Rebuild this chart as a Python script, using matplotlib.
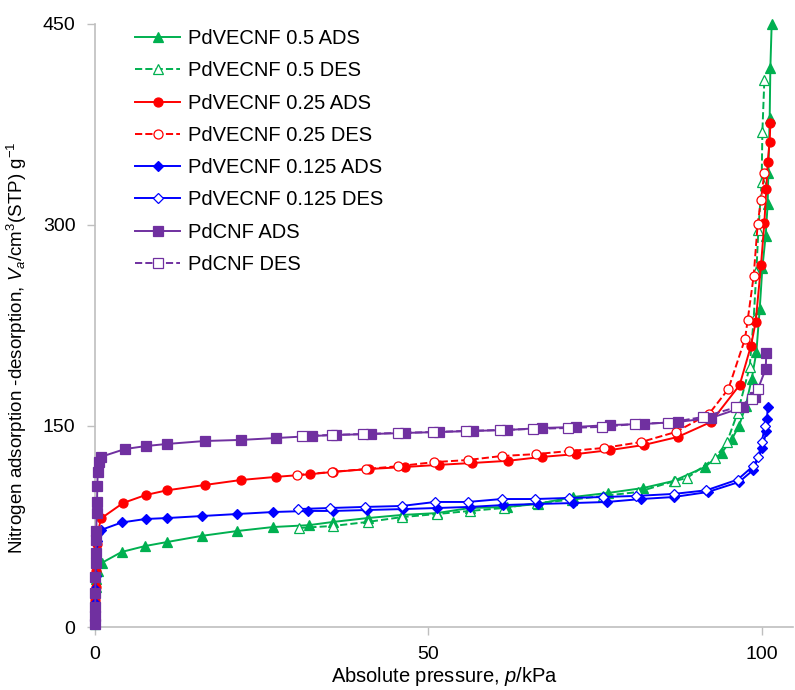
import matplotlib
matplotlib.use("Agg")
import matplotlib.pyplot as plt

plt.rcParams['font.family'] = ['Liberation Sans', 'DejaVu Sans']
plt.rcParams['mathtext.fontset'] = 'custom'
plt.rcParams['mathtext.rm'] = 'Liberation Sans'
plt.rcParams['mathtext.it'] = 'Liberation Sans:italic'

# PdVECNF 0.5
g_ads_x = [0.01, 0.02, 0.04, 0.07, 0.1, 0.2, 0.4, 1.0, 4.0, 7.5, 10.8, 16.0, 21.3, 26.7, 32.1, 35.7,
           40.9, 46.0, 51.3, 56.2, 61.8, 66.4, 71.7, 76.9, 82.2, 86.8, 91.5, 94.0, 95.5, 96.6, 97.6,
           98.5, 99.2, 99.7, 100.1, 100.6, 100.9, 101.0, 101.2, 101.3, 101.5]
g_ads_y = [2, 8, 15, 22, 30, 36, 42, 47.8, 56, 60.4, 63.4, 68, 71.6, 74.6, 76, 78.4,
           81.3, 83.6, 85, 88.8, 89.6, 91.8, 97, 100, 103.7, 109, 119.4, 130, 140, 150, 165,
           185, 205, 237, 268, 292, 316, 339, 380, 417, 450]
g_des_x = [30.6, 35.7, 40.9, 46.0, 51.3, 56.2, 61.3, 66.3, 71.5, 76.2, 81.4, 87.0, 88.8, 93.0,
           94.8, 96.4, 98.2, 98.8, 99.2, 99.5, 100.0, 100.1, 100.4]
g_des_y = [73.9, 75.4, 78.4, 82, 84.3, 86.6, 88.8, 92.5, 95, 97.8, 100.7, 109, 111.2, 126,
           138, 160, 194, 230, 265, 296, 332, 369, 408]

# PdVECNF 0.25
r_ads_x = [0.01, 0.02, 0.05, 0.1, 0.15, 0.2, 0.3, 0.5, 0.9, 4.2, 7.6, 10.8, 16.5, 21.9, 27.1, 32.2,
           35.7, 41.1, 46.5, 51.6, 56.6, 61.9, 67.0, 72.1, 77.2, 82.3, 87.4, 92.4, 96.7, 98.4,
           99.1, 99.9, 100.4, 100.7, 100.9, 101.2, 101.3]
r_ads_y = [3, 10, 20, 30, 42, 52, 62, 72, 81, 92.5, 98.5, 102, 106, 109.7, 112, 114,
           115.7, 117.9, 119.4, 121, 122.4, 124, 126.9, 129, 132, 135.8, 141.8, 153, 180.6, 210,
           227.6, 270, 301.5, 327, 347, 362, 376]
r_des_x = [30.3, 35.5, 40.7, 45.5, 50.8, 55.9, 61.0, 66.1, 71.1, 76.3, 81.9, 87.1, 92.1, 95.0,
           97.5, 97.9, 98.8, 99.4, 99.9, 100.4]
r_des_y = [113.4, 115.7, 117.9, 120, 123, 124.6, 127.6, 129, 131.3, 133.6, 138, 145.5, 159, 177.6,
           215, 229, 262, 300.7, 319, 339]

# PdVECNF 0.125
b_ads_x = [0.01, 0.02, 0.04, 0.07, 0.1, 0.15, 0.2, 0.3, 0.5, 0.9, 4.0, 7.6, 10.8, 16.0, 21.3, 26.7,
           32.0, 35.7, 40.8, 46.2, 51.3, 56.2, 61.2, 66.4, 71.7, 76.8, 81.9, 86.8, 91.9, 96.6,
           98.7, 100.1, 100.7, 100.8, 100.9]
b_ads_y = [3, 10, 18, 28, 38, 48, 56, 64, 70, 72.4, 78, 80.6, 81.3, 82.8, 84.3, 85.8,
           86.6, 86.6, 87.3, 88, 88.8, 89.6, 91, 91.8, 92.5, 93.3, 95.5, 97, 100.7, 108.2,
           117, 133.6, 146, 155, 164]
b_des_x = [30.4, 35.3, 40.5, 46.0, 51.0, 55.9, 61.0, 66.0, 71.1, 76.2, 81.1, 86.8, 91.7, 96.4,
           98.7, 99.5, 100.0, 100.5]
b_des_y = [88, 88.8, 89.6, 90.3, 93.3, 93.3, 95.5, 95.5, 96.3, 97, 97.8, 99.3, 102, 110,
           120, 127, 138, 150]

# PdCNF
p_ads_x = [0.01, 0.02, 0.03, 0.05, 0.07, 0.1, 0.12, 0.15, 0.2, 0.25, 0.3, 0.35, 0.4, 0.6, 0.9,
           4.5, 7.6, 10.8, 16.5, 21.9, 27.1, 32.5, 36.1, 41.4, 46.5, 51.6, 56.7, 61.8, 67.0,
           72.1, 77.2, 82.3, 87.4, 92.4, 97.2, 99.0, 100.6, 100.7]
p_ads_y = [2, 8, 15, 25, 37, 48, 55, 65, 72, 85, 93, 105, 115.7, 123, 127,
           132.8, 135, 136.6, 138.8, 139.6, 141, 142.5, 143.3, 144, 144.8, 145.5, 146.3, 147, 148.5,
           149.3, 150.7, 151.5, 153, 156, 164, 172, 192.5, 204.5]
p_des_x = [31.0, 35.5, 40.2, 45.4, 50.7, 55.6, 60.7, 65.7, 70.9, 76.0, 81.0, 86.0, 91.2, 96.2,
           98.5, 99.4]
p_des_y = [142.5, 143.3, 144, 144.8, 145.5, 146.3, 147, 147.8, 148.5, 149.3, 151.5, 152.5, 156.7, 164,
           170, 177.6]

labels = ["PdVECNF 0.5 ADS", "PdVECNF 0.5 DES", "PdVECNF 0.25 ADS", "PdVECNF 0.25 DES",
          "PdVECNF 0.125 ADS", "PdVECNF 0.125 DES", "PdCNF ADS", "PdCNF DES"]
x_ticks = [0, 50, 100]
y_ticks = [0, 150, 300, 450]

GREEN = "#00B050"
RED = "#FF0000"
BLUE = "#0000FF"
PURPLE = "#7030A0"

fig = plt.figure(figsize=(7.95, 6.9), dpi=100)
ax = fig.add_axes([0.1195, 0.0913, 0.878, 0.874])

series = [
    (g_ads_x, g_ads_y, GREEN, '^', '-', True, 6.5),
    (g_des_x, g_des_y, GREEN, '^', '--', False, 6.5),
    (r_ads_x, r_ads_y, RED, 'o', '-', True, 6.5),
    (r_des_x, r_des_y, RED, 'o', '--', False, 6.5),
    (b_ads_x, b_ads_y, BLUE, 'D', '-', True, 5.0),
    (b_des_x, b_des_y, BLUE, 'D', '-', False, 5.0),
    (p_ads_x, p_ads_y, PURPLE, 's', '-', True, 6.5),
    (p_des_x, p_des_y, PURPLE, 's', '--', False, 6.5),
]
for (xs, ys, c, m, ls, filled, ms), lab in zip(series, labels):
    ax.plot(xs, ys, color=c, linestyle=ls, linewidth=1.4, marker=m, markersize=ms,
            markerfacecolor=c if filled else 'white', markeredgecolor=c,
            markeredgewidth=0.9, label=lab, clip_on=False, zorder=3)

ax.set_xlim(0, 104.7)
ax.set_ylim(0, 450)
ax.set_xticks(x_ticks)
ax.set_yticks(y_ticks)
for s in ['top', 'right']:
    ax.spines[s].set_visible(False)
for s in ['left', 'bottom']:
    ax.spines[s].set_color('#BFBFBF')
    ax.spines[s].set_linewidth(1.2)
ax.tick_params(axis='both', direction='out', length=6, width=1.0, color='#BFBFBF',
               labelsize=14, labelcolor='black', pad=8)

ax.set_xlabel(r"Absolute pressure, $\it{p}$/kPa", fontsize=14.5, labelpad=1)
ax.set_ylabel(r"Nitrogen adsorption -desorption, $\it{V}_{\it{a}}$/cm$^{3}$(STP) g$^{-1}$",
              fontsize=13.5)
ax.yaxis.set_label_coords(-0.095, 0.463)

leg = ax.legend(loc='upper left', bbox_to_anchor=(0.046, 1.005), frameon=False, fontsize=14.5,
                handlelength=2.25, labelspacing=0.66, handletextpad=0.35, borderaxespad=0)

fig.savefig("out.png", dpi=100)
